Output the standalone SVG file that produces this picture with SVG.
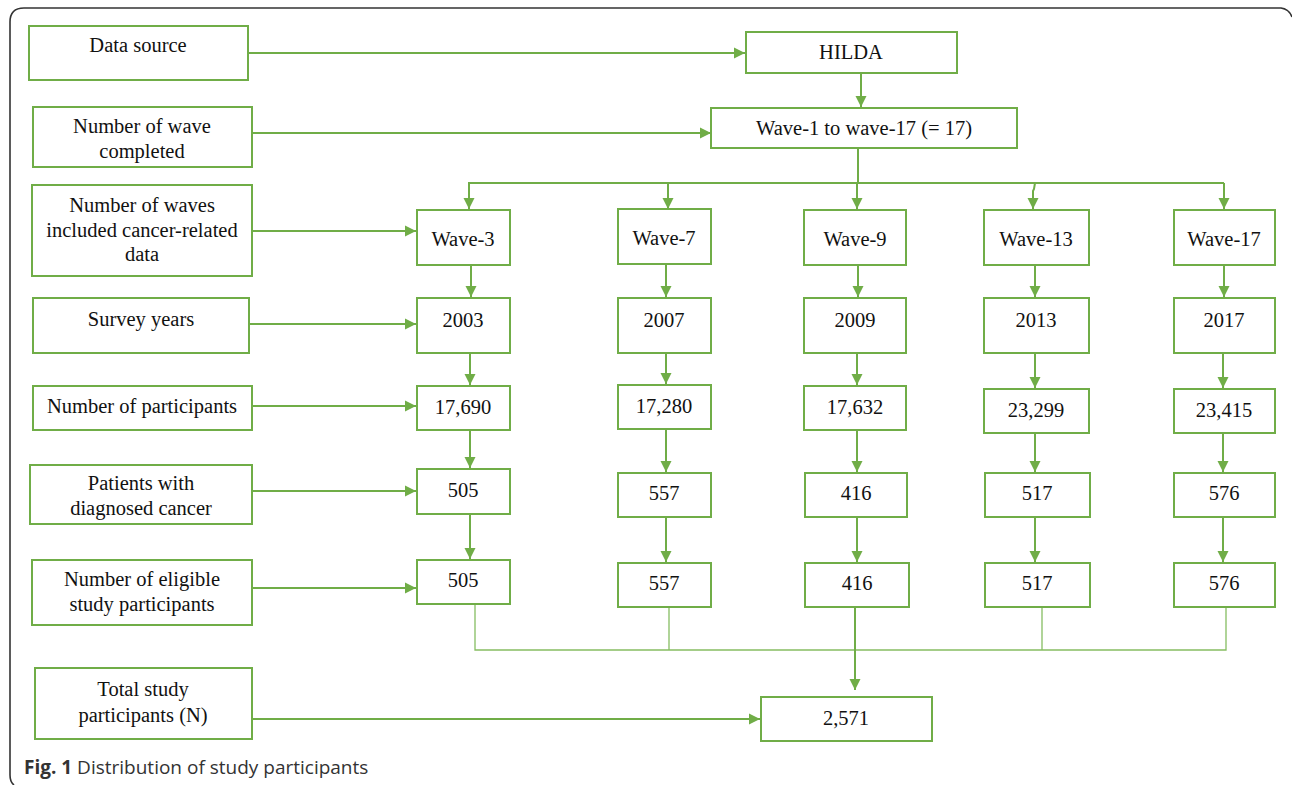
<svg xmlns="http://www.w3.org/2000/svg" width="1292" height="785" viewBox="0 0 1292 785">
<defs>
<marker id="ah" markerUnits="userSpaceOnUse" markerWidth="12" markerHeight="12" viewBox="0 0 12 12" refX="11" refY="6" orient="auto">
<path d="M0,0.5 L11,6 L0,11.5 Z" fill="#70ad47"/>
</marker>
</defs>
<style>
.b{fill:#fff;stroke:#70ad47;stroke-width:2}
.t{font-family:"Liberation Serif","Times New Roman",serif;font-size:20.5px;fill:#111;text-anchor:middle}
.c{fill:none;stroke:#70ad47;stroke-width:2}
.a{fill:none;stroke:#70ad47;stroke-width:2;marker-end:url(#ah)}
.thin{fill:none;stroke:#86bd62;stroke-width:1.3}
.cap{font-family:"Open Sans","Noto Sans",sans-serif;font-size:19px;fill:#333}
</style>
<rect width="1292" height="785" fill="#fff"/>
<path d="M1292,17 Q1289,9 1281,8 L24,8 Q10,8 10,22 L10,775 Q10,782 14,785" fill="none" stroke="#333" stroke-width="1.6"/>

<g id="connectors">
<path class="a" d="M248,53 H745"/>
<path class="a" d="M252,133 H711"/>
<path class="a" d="M861,73 V107"/>
<path class="c" d="M858,148 V183"/>
<path class="c" stroke-width="1.5" d="M468,183 H1224"/>
<path class="a" d="M469,183 V209"/>
<path class="a" d="M668,183 V209"/>
<path class="a" d="M857,183 V209"/>
<path class="a" d="M1035,183 L1034,189 L1033,191 V209"/>
<path class="a" d="M1224,183 V209"/>
<path class="a" d="M252,231 H416"/>
<path class="a" d="M249,324 H416"/>
<path class="a" d="M252,406 H416"/>
<path class="a" d="M252,491 H416"/>
<path class="a" d="M252,588 H416"/>
<path class="a" d="M252,719 H760"/>
<path class="a" d="M471,265 V297"/>
<path class="a" d="M470,353 V385"/>
<path class="a" d="M470,430 V468"/>
<path class="a" d="M470,514 V559"/>
<path class="a" d="M666,264 V297"/>
<path class="a" d="M666,353 V384"/>
<path class="a" d="M666,429 V472"/>
<path class="a" d="M666,517 V562"/>
<path class="a" d="M858,265 V297"/>
<path class="a" d="M857,353 V385"/>
<path class="a" d="M857,430 V472"/>
<path class="a" d="M857,517 V562"/>
<path class="a" d="M1035,265 V297"/>
<path class="a" d="M1035,353 V388"/>
<path class="a" d="M1035,433 V472"/>
<path class="a" d="M1035,517 V562"/>
<path class="a" d="M1224,265 V297"/>
<path class="a" d="M1223,353 V388"/>
<path class="a" d="M1223,433 V472"/>
<path class="a" d="M1223,517 V562"/>
<path class="thin" d="M475,604 V650 H1226 V607"/>
<path class="thin" d="M669,607 V650"/>
<path class="thin" d="M1042,607 V650"/>
<path class="a" d="M855,607 V690"/>
</g>

<g id="n-datasource"><rect class="b" x="29" y="26" width="219" height="54"/><text class="t" x="138" y="52">Data source</text></g>
<g id="n-numwave"><rect class="b" x="33" y="107" width="219" height="60"/><text class="t" x="142" y="133">Number of wave</text><text class="t" x="142" y="158">completed</text></g>
<g id="n-wavesincl"><rect class="b" x="32" y="185" width="220" height="91"/><text class="t" x="142" y="212">Number of waves</text><text class="t" x="142" y="237">included cancer-related</text><text class="t" x="142" y="261">data</text></g>
<g id="n-survey"><rect class="b" x="33" y="298" width="216" height="55"/><text class="t" x="141" y="326">Survey years</text></g>
<g id="n-numpart"><rect class="b" x="33" y="386" width="219" height="44"/><text class="t" x="142" y="413">Number of participants</text></g>
<g id="n-patients"><rect class="b" x="30" y="465" width="222" height="59"/><text class="t" x="141" y="490">Patients with</text><text class="t" x="141" y="515">diagnosed cancer</text></g>
<g id="n-eligible"><rect class="b" x="32" y="560" width="220" height="65"/><text class="t" x="142" y="586">Number of eligible</text><text class="t" x="142" y="611">study participants</text></g>
<g id="n-total"><rect class="b" x="35" y="668" width="217" height="71"/><text class="t" x="143" y="696">Total study</text><text class="t" x="143" y="722">participants (N)</text></g>

<g id="n-hilda"><rect class="b" x="746" y="32" width="211" height="41"/><text class="t" x="851" y="59">HILDA</text></g>
<g id="n-wave1to17"><rect class="b" x="711" y="108" width="306" height="40"/><text class="t" x="864" y="135">Wave-1 to wave-17 (= 17)</text></g>

<g id="n-w3"><rect class="b" x="417" y="210" width="93" height="55"/><text class="t" x="463" y="246">Wave-3</text></g>
<g id="n-w7"><rect class="b" x="618" y="209" width="93" height="55"/><text class="t" x="664" y="245">Wave-7</text></g>
<g id="n-w9"><rect class="b" x="804" y="210" width="102" height="55"/><text class="t" x="855" y="246">Wave-9</text></g>
<g id="n-w13"><rect class="b" x="984" y="210" width="105" height="55"/><text class="t" x="1036" y="246">Wave-13</text></g>
<g id="n-w17"><rect class="b" x="1174" y="210" width="101" height="55"/><text class="t" x="1224" y="246">Wave-17</text></g>

<g id="n-y2003"><rect class="b" x="417" y="298" width="93" height="55"/><text class="t" x="463" y="327">2003</text></g>
<g id="n-y2007"><rect class="b" x="618" y="298" width="93" height="55"/><text class="t" x="664" y="327">2007</text></g>
<g id="n-y2009"><rect class="b" x="804" y="298" width="102" height="55"/><text class="t" x="855" y="327">2009</text></g>
<g id="n-y2013"><rect class="b" x="984" y="298" width="105" height="55"/><text class="t" x="1036" y="327">2013</text></g>
<g id="n-y2017"><rect class="b" x="1174" y="298" width="101" height="55"/><text class="t" x="1224" y="327">2017</text></g>

<g id="n-p3"><rect class="b" x="417" y="386" width="93" height="44"/><text class="t" x="463" y="414">17,690</text></g>
<g id="n-p7"><rect class="b" x="618" y="385" width="93" height="44"/><text class="t" x="664" y="413">17,280</text></g>
<g id="n-p9"><rect class="b" x="804" y="386" width="102" height="44"/><text class="t" x="855" y="414">17,632</text></g>
<g id="n-p13"><rect class="b" x="984" y="389" width="105" height="44"/><text class="t" x="1036" y="417">23,299</text></g>
<g id="n-p17"><rect class="b" x="1174" y="389" width="101" height="44"/><text class="t" x="1224" y="417">23,415</text></g>

<g id="n-c3"><rect class="b" x="417" y="469" width="93" height="45"/><text class="t" x="463" y="497">505</text></g>
<g id="n-c7"><rect class="b" x="618" y="473" width="93" height="44"/><text class="t" x="664" y="500">557</text></g>
<g id="n-c9"><rect class="b" x="805" y="473" width="102" height="44"/><text class="t" x="856" y="500">416</text></g>
<g id="n-c13"><rect class="b" x="985" y="473" width="105" height="44"/><text class="t" x="1037" y="500">517</text></g>
<g id="n-c17"><rect class="b" x="1174" y="473" width="101" height="44"/><text class="t" x="1224" y="500">576</text></g>

<g id="n-e3"><rect class="b" x="417" y="560" width="93" height="44"/><text class="t" x="463" y="587">505</text></g>
<g id="n-e7"><rect class="b" x="618" y="563" width="93" height="44"/><text class="t" x="664" y="590">557</text></g>
<g id="n-e9"><rect class="b" x="805" y="563" width="104" height="44"/><text class="t" x="857" y="590">416</text></g>
<g id="n-e13"><rect class="b" x="985" y="563" width="105" height="44"/><text class="t" x="1037" y="590">517</text></g>
<g id="n-e17"><rect class="b" x="1174" y="563" width="101" height="44"/><text class="t" x="1224" y="590">576</text></g>

<g id="n-total-n"><rect class="b" x="761" y="697" width="171" height="44"/><text class="t" x="846" y="725">2,571</text></g>

<text class="cap" x="24" y="774"><tspan font-weight="bold">Fig. 1</tspan> Distribution of study participants</text>
</svg>
